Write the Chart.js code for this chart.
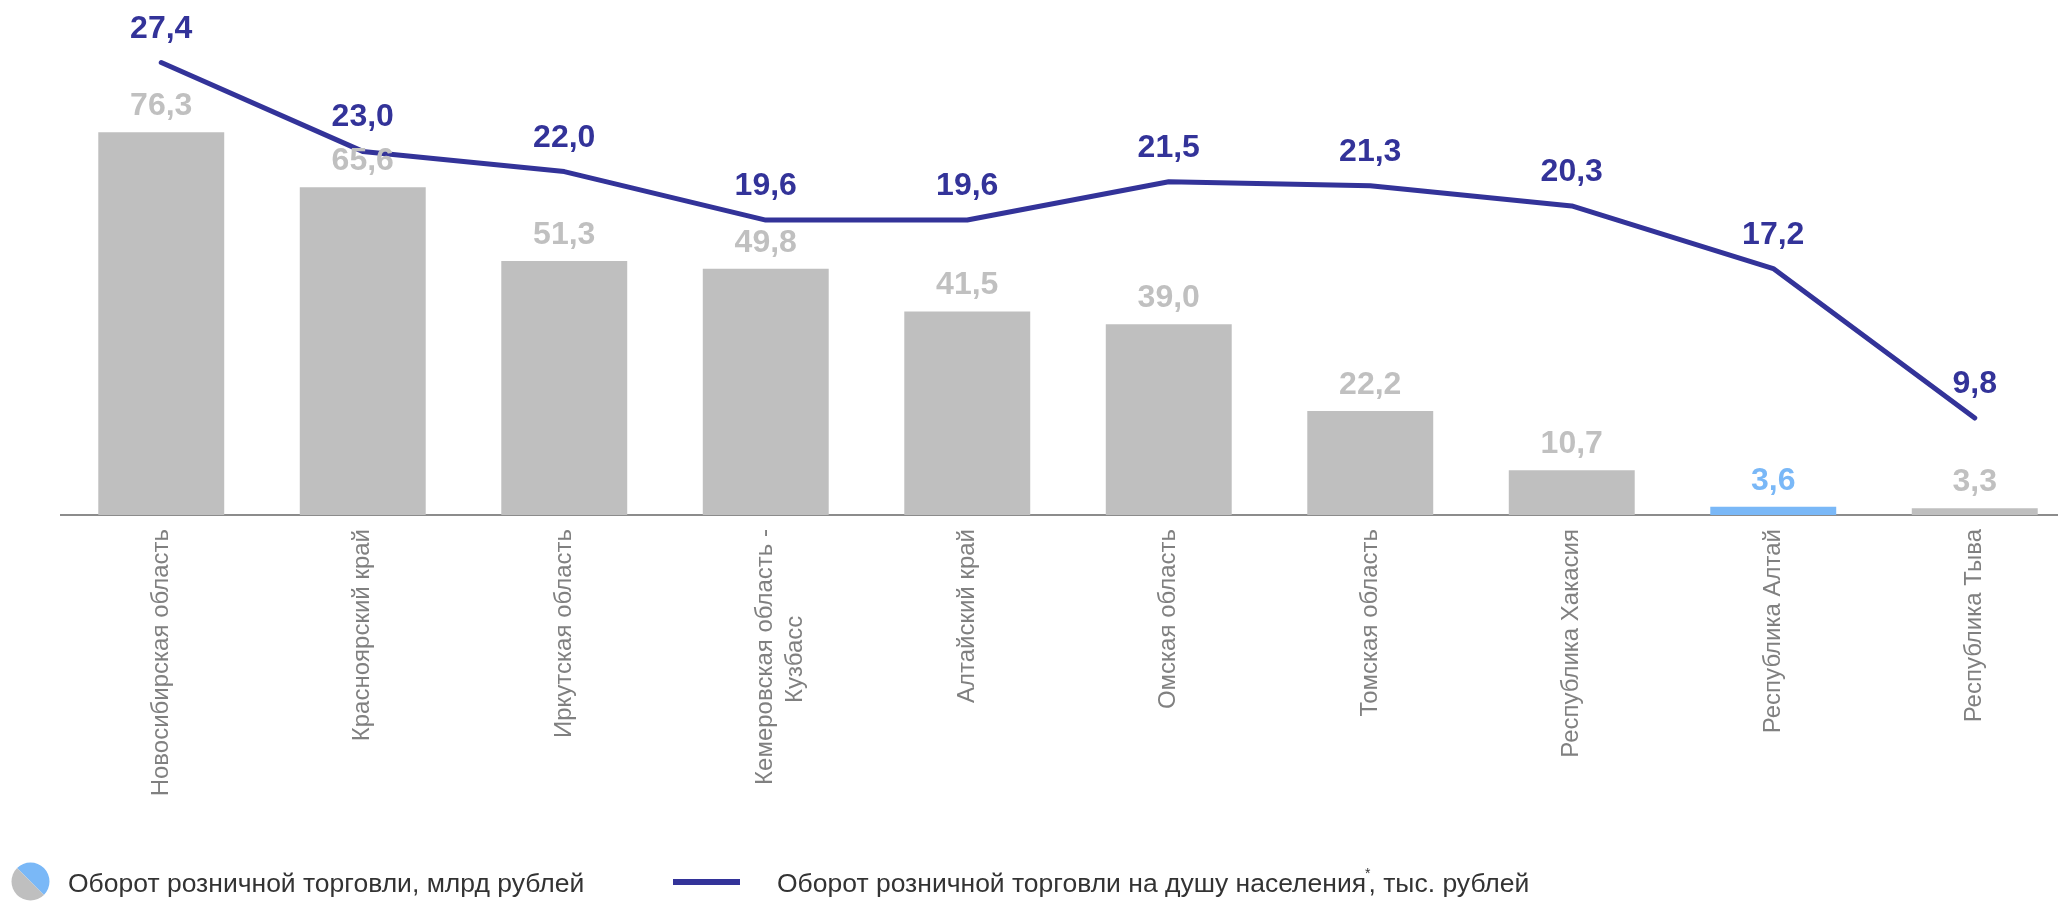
<!DOCTYPE html>
<html>
<head>
<meta charset="utf-8">
<script src="https://cdn.jsdelivr.net/npm/chart.js@4.4.1/dist/chart.umd.min.js"></script>
<style>
html, body { margin: 0; padding: 0; background: #fff; overflow: hidden; width: 2058px; height: 904px; }
#wrap { position: absolute; left: 0; top: 0; width: 2080px; height: 904px; }
</style>
</head>
<body>
<div id="wrap"><canvas id="chart"></canvas></div>
<script>
const regiones = ['Новосибирская область', 'Красноярский край', 'Иркутская область', ['Кемеровская область -', 'Кузбасс'], 'Алтайский край', 'Омская область', 'Томская область', 'Республика Хакасия', 'Республика Алтай', 'Республика Тыва'];
const oborot = [76.3, 65.6, 51.3, 49.8, 41.5, 39.0, 22.2, 10.7, 3.6, 3.3];
const naDushu = [27.4, 23.0, 22.0, 19.6, 19.6, 21.5, 21.3, 20.3, 17.2, 9.8];
const nombres = ['Оборот розничной торговли, млрд рублей', 'Оборот розничной торговли на душу населения*, тыс. рублей'];

const FONT = '"Liberation Sans", Arial, sans-serif';
const GRIS = '#bfbfbf', AZUL = '#7ab8f7', LINEA = '#333399';
const coloresBarras = regiones.map((r, i) => i === 8 ? AZUL : GRIS);

const fmt = v => v.toFixed(1).replace('.', ',');

// centrar las lineas cortas de una etiqueta girada (chart.js las alinea a la derecha)
const medidor = document.createElement('canvas').getContext('2d');
medidor.font = '24px ' + FONT;
function centrarLineas(label) {
    if (!Array.isArray(label)) return label;
    const anchos = label.map(l => medidor.measureText(l).width);
    const max = Math.max(...anchos);
    const esp = medidor.measureText(' ').width;
    return label.map((l, i) => l + ' '.repeat(Math.round((max - anchos[i]) / 2 / esp)));
}

// etiquetas de valores encima de barras y puntos
const etiquetas = {
    id: 'etiquetas',
    afterDatasetsDraw(chart) {
        const ctx = chart.ctx;
        ctx.save();
        ctx.textAlign = 'center';
        ctx.textBaseline = 'alphabetic';
        ctx.font = 'bold 32px ' + FONT;
        chart.getDatasetMeta(0).data.forEach((bar, i) => {
            ctx.fillStyle = coloresBarras[i] === AZUL ? AZUL : '#c0c0c0';
            ctx.fillText(fmt(oborot[i]), bar.x, bar.y - 17);
        });
        ctx.fillStyle = LINEA;
        chart.getDatasetMeta(1).data.forEach((pt, i) => {
            ctx.fillText(fmt(naDushu[i]), pt.x, pt.y - 25);
        });
        ctx.restore();
    }
};

// leyenda abajo, a la izquierda
const leyenda = {
    id: 'leyenda',
    afterDraw(chart) {
        const ctx = chart.ctx;
        const ds = chart.data.datasets;
        ctx.save();
        ctx.font = '26.5px ' + FONT;
        ctx.textBaseline = 'middle';
        // icono circular mitad gris / mitad azul
        const cx = 30.5, cy = 881.5, r = 19;
        ctx.fillStyle = AZUL;
        ctx.beginPath(); ctx.moveTo(cx, cy); ctx.arc(cx, cy, r, -3 * Math.PI / 4, Math.PI / 4); ctx.closePath(); ctx.fill();
        ctx.fillStyle = GRIS;
        ctx.beginPath(); ctx.moveTo(cx, cy); ctx.arc(cx, cy, r, Math.PI / 4, 5 * Math.PI / 4); ctx.closePath(); ctx.fill();
        ctx.fillStyle = '#333333';
        ctx.fillText(ds[0].label, 68, 885);
        // icono de linea
        ctx.fillStyle = LINEA;
        ctx.fillRect(673, 879, 67, 6);
        ctx.fillStyle = '#333333';
        const partes = ds[1].label.split('*');
        let x = 777;
        ctx.fillText(partes[0], x, 885);
        x += ctx.measureText(partes[0]).width - 1;
        ctx.font = '14px ' + FONT;
        ctx.fillText('*', x, 874);
        x += ctx.measureText('*').width - 2;
        ctx.font = '26.5px ' + FONT;
        ctx.fillText(partes[1], x, 885);
        ctx.restore();
    }
};

new Chart(document.getElementById('chart'), {
    data: {
        labels: regiones.map(centrarLineas),
        datasets: [
            { type: 'bar', label: nombres[0], data: oborot, backgroundColor: coloresBarras, yAxisID: 'y', order: 1, barPercentage: 0.625, categoryPercentage: 1 },
            { type: 'line', label: nombres[1], data: naDushu, borderColor: LINEA, borderWidth: 5, borderCapStyle: 'round', borderJoinStyle: 'round', pointRadius: 0, tension: 0, yAxisID: 'y1', order: 0 }
        ]
    },
    options: {
        responsive: true,
        maintainAspectRatio: false,
        animation: false,
        layout: { padding: { top: 10, left: 60.5, right: 4.5, bottom: 0 } },
        plugins: { legend: { display: false }, tooltip: { enabled: false } },
        scales: {
            x: {
                grid: { display: false },
                border: { display: true, color: '#8c8c8c', width: 2 },
                ticks: { autoSkip: false, minRotation: 90, maxRotation: 90, padding: 6, color: '#808080', font: { family: FONT, size: 24, lineHeight: 1.25 } },
                afterFit: s => { s.height = 389; }
            },
            y: { display: false, min: 2, max: 100, beginAtZero: false },
            y1: { display: false, min: 5, max: 30, position: 'right' }
        }
    },
    plugins: [etiquetas, leyenda]
});
</script>
</body>
</html>
